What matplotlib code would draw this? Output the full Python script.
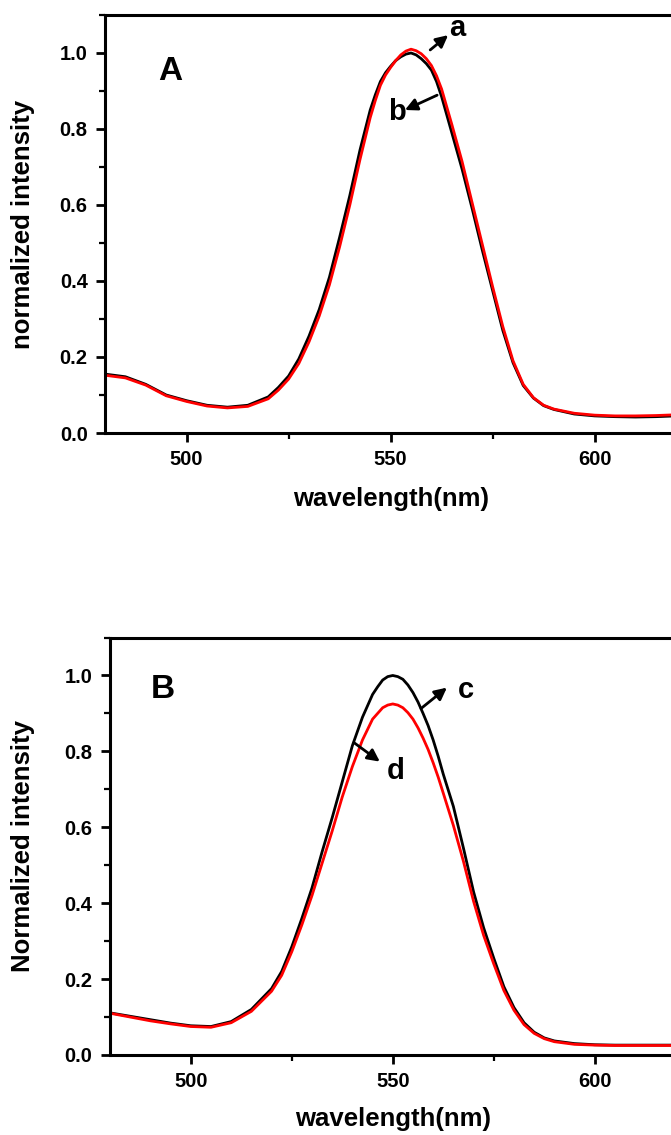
import matplotlib
matplotlib.use("Agg")
import matplotlib.pyplot as plt
from matplotlib.ticker import MultipleLocator

plt.rcParams['font.family'] = ['Liberation Sans', 'DejaVu Sans']
plt.rcParams['font.weight'] = 'bold'

# wavelength grid (nm)
wavelength = [480, 485, 490, 495, 500, 505, 510, 515, 520, 522.5, 525, 527.5,
              530, 532.5, 535, 537.5, 540, 542.5, 545, 546.25, 547.5, 548.75,
              550, 551.25, 552.5, 553.75, 555, 556.25, 557.5, 558.75, 560,
              561.25, 562.5, 565, 567.5, 570, 572.5, 575, 577.5, 580, 582.5,
              585, 587.5, 590, 595, 600, 605, 610, 615, 620]

# panel A
curve_a = [0.152, 0.145, 0.126, 0.098, 0.083, 0.071, 0.066, 0.070, 0.090, 0.113,
           0.142, 0.183, 0.240, 0.308, 0.390, 0.490, 0.600, 0.720, 0.830, 0.875,
           0.915, 0.942, 0.962, 0.980, 0.995, 1.005, 1.010, 1.006, 0.998, 0.985,
           0.967, 0.940, 0.905, 0.812, 0.715, 0.605, 0.495, 0.385, 0.280, 0.190,
           0.128, 0.093, 0.073, 0.063, 0.052, 0.047, 0.045, 0.045, 0.046, 0.048]
curve_b = [0.155, 0.148, 0.128, 0.100, 0.085, 0.073, 0.068, 0.073, 0.095, 0.120,
           0.150, 0.195, 0.255, 0.325, 0.410, 0.515, 0.625, 0.745, 0.850, 0.890,
           0.925, 0.948, 0.965, 0.980, 0.990, 0.997, 1.000, 0.995, 0.985, 0.972,
           0.955, 0.925, 0.885, 0.790, 0.695, 0.590, 0.480, 0.375, 0.270, 0.185,
           0.125, 0.092, 0.072, 0.062, 0.050, 0.045, 0.043, 0.042, 0.043, 0.045]

# panel B
curve_c = [0.111, 0.102, 0.093, 0.084, 0.077, 0.075, 0.088, 0.120, 0.175, 0.220,
           0.285, 0.360, 0.440, 0.535, 0.625, 0.720, 0.815, 0.890, 0.950, 0.970,
           0.988, 0.997, 1.000, 0.997, 0.990, 0.975, 0.955, 0.930, 0.900, 0.868,
           0.830, 0.787, 0.740, 0.655, 0.545, 0.430, 0.335, 0.255, 0.180, 0.125,
           0.085, 0.060, 0.045, 0.037, 0.030, 0.027, 0.026, 0.026, 0.026, 0.026]
curve_d = [0.110, 0.100, 0.090, 0.082, 0.075, 0.073, 0.085, 0.115, 0.168, 0.210,
           0.272, 0.343, 0.420, 0.505, 0.590, 0.680, 0.760, 0.830, 0.885, 0.900,
           0.915, 0.922, 0.925, 0.922, 0.915, 0.902, 0.885, 0.862, 0.835, 0.805,
           0.770, 0.732, 0.690, 0.605, 0.510, 0.405, 0.315, 0.240, 0.170, 0.118,
           0.080, 0.057, 0.043, 0.035, 0.028, 0.026, 0.025, 0.025, 0.025, 0.025]

fig = plt.figure(figsize=(6.71, 11.35), dpi=100)
ax1 = fig.add_axes([0.1565, 0.6185, 0.9729, 0.3683])
ax2 = fig.add_axes([0.1639, 0.0705, 0.9633, 0.3678])


def style_axis(ax, ylabel, ylab_x, xlab_y):
    ax.set_xlim(480, 640)
    ax.set_ylim(0, 1.1)
    ax.xaxis.set_major_locator(MultipleLocator(50))
    ax.xaxis.set_minor_locator(MultipleLocator(25))
    ax.yaxis.set_major_locator(MultipleLocator(0.2))
    ax.yaxis.set_minor_locator(MultipleLocator(0.1))
    ax.yaxis.set_major_formatter(plt.FormatStrFormatter('%.1f'))
    for side in ['left', 'bottom', 'top', 'right']:
        ax.spines[side].set_linewidth(2.2)
    ax.tick_params(which='major', direction='out', length=6.5, width=2,
                   labelsize=14.5, pad=6, top=False, right=False)
    ax.tick_params(which='minor', direction='out', length=4, width=1.6,
                   top=False, right=False)
    for lab in ax.get_xticklabels() + ax.get_yticklabels():
        lab.set_fontweight('bold')
    ax.set_xlabel('wavelength(nm)', fontsize=18.5, fontweight='bold')
    ax.set_ylabel(ylabel, fontsize=18.5, fontweight='bold')
    ax.xaxis.set_label_coords(0.4375, xlab_y)
    ax.yaxis.set_label_coords(ylab_x, 0.5)


ax1.plot(wavelength, curve_b, color='black', lw=2)
ax1.plot(wavelength, curve_a, color='red', lw=2)
style_axis(ax1, 'normalized intensity', -0.107, -0.129)
ax1.text(496, 0.95, 'A', fontsize=24, fontweight='bold', ha='center', va='center')
arrow = dict(arrowstyle='-|>', color='black', lw=2, mutation_scale=18, shrinkA=0, shrinkB=0)
ax1.annotate('', xy=(564.1, 1.047), xytext=(559.7, 1.008), arrowprops=arrow)
ax1.text(566.3, 1.066, 'a', fontsize=21, fontweight='bold', ha='center', va='center')
ax1.annotate('', xy=(553.5, 0.85), xytext=(561.4, 0.889), arrowprops=arrow)
ax1.text(551.6, 0.845, 'b', fontsize=21, fontweight='bold', ha='center', va='center')

ax2.plot(wavelength, curve_c, color='black', lw=2)
ax2.plot(wavelength, curve_d, color='red', lw=2)
style_axis(ax2, 'Normalized intensity', -0.116, -0.1245)
ax2.text(493.1, 0.963, 'B', fontsize=24, fontweight='bold', ha='center', va='center')
ax2.annotate('', xy=(563.4, 0.968), xytext=(557.0, 0.913), arrowprops=arrow)
ax2.text(568.1, 0.963, 'c', fontsize=21, fontweight='bold', ha='center', va='center')
ax2.annotate('', xy=(546.8, 0.773), xytext=(540.4, 0.823), arrowprops=arrow)
ax2.text(550.8, 0.747, 'd', fontsize=21, fontweight='bold', ha='center', va='center')

fig.savefig('out.png', dpi=100)
